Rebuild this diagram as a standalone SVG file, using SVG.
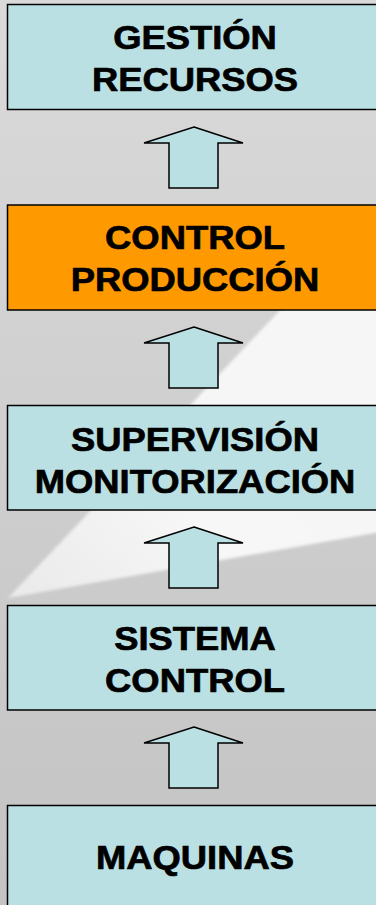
<svg xmlns="http://www.w3.org/2000/svg" width="376" height="905" viewBox="0 0 376 905">
<defs>
<linearGradient id="bg" x1="0" y1="0" x2="0" y2="1">
<stop offset="0" stop-color="#dadada"/>
<stop offset="1" stop-color="#c3c3c3"/>
</linearGradient>
<linearGradient id="wedge" x1="0" y1="1" x2="1" y2="0">
<stop offset="0" stop-color="#f4f4f4" stop-opacity="0.75"/>
<stop offset="0.35" stop-color="#f7f7f7"/>
<stop offset="1" stop-color="#f5f5f5"/>
</linearGradient>
<filter id="soft" x="-10%" y="-10%" width="120%" height="120%">
<feGaussianBlur stdDeviation="1.5"/>
</filter>
<polygon id="arrow" points="194,127 243,143 218,143 218,188 169,188 169,143 144,143"/>
</defs>
<style>
.box{stroke:#000;stroke-width:1.5}
.blue{fill:#bae0e3}
.orange{fill:#ff9900}
.arr{fill:#bae0e3;stroke:#000;stroke-width:1.5;stroke-linejoin:miter}
.lbl{font-family:"Liberation Sans",Arial,sans-serif;font-weight:bold;font-size:34px;fill:#000;stroke:#000;stroke-width:0.7;text-anchor:middle}
</style>
<rect x="0" y="0" width="376" height="905" fill="url(#bg)"/>
<polygon points="8,598 388,196 380,532" fill="url(#wedge)" filter="url(#soft)"/>
<g id="connectors">
<use href="#arrow" class="arr"/>
<use href="#arrow" class="arr" transform="translate(0,200)"/>
<use href="#arrow" class="arr" transform="translate(0,400)"/>
<use href="#arrow" class="arr" transform="translate(0,600)"/>
</g>
<g id="gestion">
<rect class="box blue" x="7.5" y="4.5" width="380" height="105"/>
<g transform="translate(195,0) scale(1.07,1)">
<text class="lbl" x="0" y="49">GESTIÓN</text>
<text class="lbl" x="0" y="91">RECURSOS</text>
</g>
</g>
<g id="control-produccion">
<rect class="box orange" x="7.5" y="205" width="380" height="105"/>
<g transform="translate(195,0) scale(1.07,1)">
<text class="lbl" x="0" y="249">CONTROL</text>
<text class="lbl" x="0" y="291">PRODUCCIÓN</text>
</g>
</g>
<g id="supervision">
<rect class="box blue" x="7.5" y="405.5" width="380" height="104.5"/>
<g transform="translate(195,0) scale(1.07,1)">
<text class="lbl" x="0" y="451">SUPERVISIÓN</text>
<text class="lbl" x="0" y="493">MONITORIZACIÓN</text>
</g>
</g>
<g id="sistema-control">
<rect class="box blue" x="7.5" y="605.5" width="380" height="104.5"/>
<g transform="translate(195,0) scale(1.07,1)">
<text class="lbl" x="0" y="650">SISTEMA</text>
<text class="lbl" x="0" y="692">CONTROL</text>
</g>
</g>
<g id="maquinas">
<rect class="box blue" x="7.5" y="805.5" width="380" height="110"/>
<g transform="translate(195,0) scale(1.07,1)">
<text class="lbl" x="0" y="869">MAQUINAS</text>
</g>
</g>
</svg>
